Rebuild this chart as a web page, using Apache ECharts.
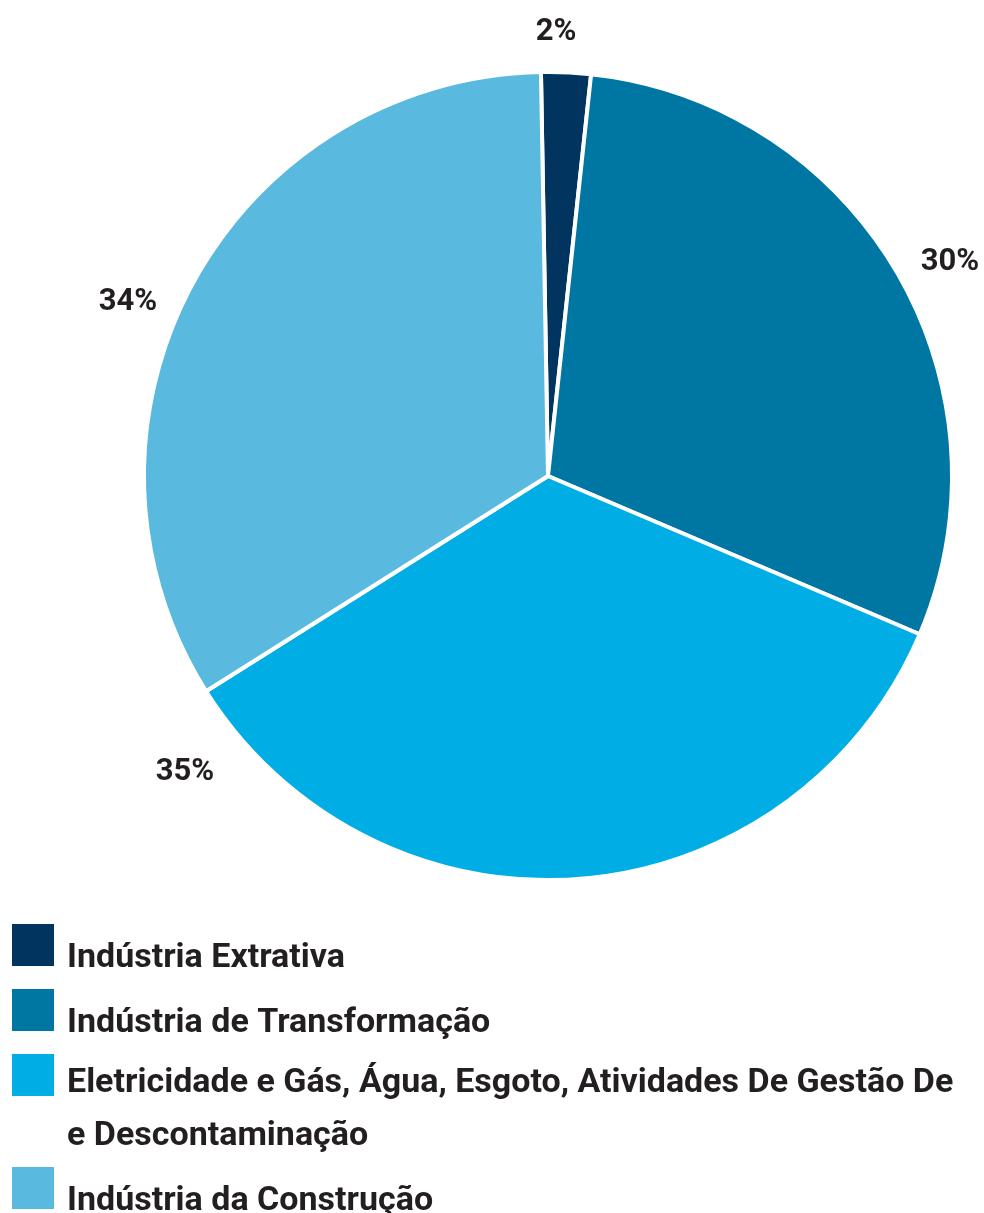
<!DOCTYPE html>
<html>
<head>
  <meta charset="utf-8">
  <title>Indústria</title>
  <script src="https://cdn.jsdelivr.net/npm/echarts@6/dist/echarts.min.js"></script>
  <style>
    html, body { margin: 0; padding: 0; background: #fff; }
    #main { width: 984px; height: 1213px; }
  </style>
</head>
<body>
  <div id="main"></div>
  <script type="text/javascript">
    // dados
    var categorias = [
      'Indústria Extrativa',
      'Indústria de Transformação',
      'Eletricidade e Gás, Água, Esgoto, Atividades De Gestão De\ne Descontaminação',
      'Indústria da Construção'
    ];
    var percentuais = [2, 30, 35, 34];
    var cores = ['#01355f', '#0076a3', '#00aee5', '#5ab9de'];

    // onde ficam os rótulos de %
    var posRotulos = [[556, 32], [950, 262], [185, 772], [128, 302]];

    var myChart = echarts.init(document.getElementById('main'));

    var dados = categorias.map(function (nome, i) {
      return { name: nome, value: percentuais[i], itemStyle: { color: cores[i] } };
    });

    // legenda: quadrados e textos separados, o texto fica um pouco abaixo do quadrado
    var topoIcone = [922, 987, 1052, 1165];
    var topoTexto = [932, 997, 1057, 1175];
    var legendas = [];
    categorias.forEach(function (nome, i) {
      legendas.push({
        left: 10,
        top: topoIcone[i],
        padding: 0,
        selectedMode: false,
        icon: 'rect',
        itemWidth: 44,
        itemHeight: 44,
        data: [nome],
        formatter: function () { return ''; }
      });
      legendas.push({
        left: 17,
        top: topoTexto[i],
        padding: 0,
        selectedMode: false,
        icon: 'rect',
        itemWidth: 44,
        itemHeight: 44,
        itemStyle: { opacity: 0 },
        data: [nome],
        textStyle: {
          fontFamily: 'Roboto',
          fontWeight: 'bold',
          fontSize: 34,
          color: '#231f20',
          lineHeight: 53
        }
      });
    });

    var option = {
      backgroundColor: '#fff',
      animation: false,
      legend: legendas,
      series: [{
        type: 'pie',
        center: [548, 476],
        radius: 404,
        startAngle: 91,
        clockwise: true,
        avoidLabelOverlap: false,
        data: dados,
        itemStyle: { borderColor: '#fff', borderWidth: 4 },
        label: {
          show: true,
          position: 'outside',
          formatter: '{c}%',
          fontFamily: 'Roboto',
          fontWeight: 'bold',
          fontSize: 31,
          color: '#231f20'
        },
        labelLine: { show: false },
        labelLayout: function (params) {
          var p = posRotulos[params.dataIndex];
          return { x: p[0], y: p[1], align: 'center', verticalAlign: 'middle' };
        },
        emphasis: { disabled: true }
      }]
    };

    myChart.setOption(option);
  </script>
</body>
</html>
